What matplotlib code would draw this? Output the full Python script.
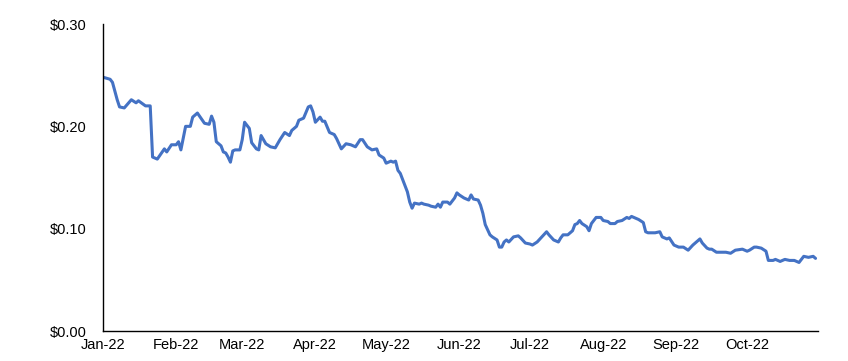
import pandas as pd
import matplotlib
matplotlib.use("Agg")
import matplotlib.pyplot as plt
import matplotlib.dates as mdates
from matplotlib.ticker import FuncFormatter

# price, roughly every other day (2022)
dates = [
    "2022-01-01", "2022-01-04", "2022-01-05", "2022-01-07", "2022-01-08", "2022-01-10",
    "2022-01-13", "2022-01-15", "2022-01-16", "2022-01-19", "2022-01-21", "2022-01-22",
    "2022-01-24", "2022-01-27", "2022-01-28", "2022-01-30", "2022-02-01", "2022-02-02",
    "2022-02-03", "2022-02-05", "2022-02-07", "2022-02-08", "2022-02-10", "2022-02-13",
    "2022-02-15", "2022-02-16", "2022-02-17", "2022-02-18", "2022-02-20", "2022-02-21",
    "2022-02-22", "2022-02-23", "2022-02-24", "2022-02-25", "2022-02-26", "2022-02-28",
    "2022-03-01", "2022-03-02", "2022-03-04", "2022-03-05", "2022-03-07", "2022-03-08",
    "2022-03-09", "2022-03-11", "2022-03-13", "2022-03-15", "2022-03-17", "2022-03-19",
    "2022-03-21", "2022-03-22", "2022-03-24", "2022-03-25", "2022-03-27", "2022-03-29",
    "2022-03-30", "2022-03-31", "2022-04-01", "2022-04-03", "2022-04-04", "2022-04-05",
    "2022-04-07", "2022-04-09", "2022-04-10", "2022-04-12", "2022-04-14", "2022-04-16",
    "2022-04-18", "2022-04-20", "2022-04-21", "2022-04-23", "2022-04-25", "2022-04-27",
    "2022-04-28", "2022-04-30", "2022-05-01", "2022-05-03", "2022-05-04", "2022-05-05",
    "2022-05-06", "2022-05-07", "2022-05-08", "2022-05-10", "2022-05-11", "2022-05-12",
    "2022-05-13", "2022-05-15", "2022-05-16", "2022-05-17", "2022-05-19", "2022-05-20",
    "2022-05-22", "2022-05-23", "2022-05-24", "2022-05-25", "2022-05-27", "2022-05-28",
    "2022-05-30", "2022-05-31", "2022-06-01", "2022-06-03", "2022-06-05", "2022-06-06",
    "2022-06-07", "2022-06-09", "2022-06-10", "2022-06-11", "2022-06-12", "2022-06-14",
    "2022-06-15", "2022-06-17", "2022-06-18", "2022-06-19", "2022-06-20", "2022-06-21",
    "2022-06-22", "2022-06-24", "2022-06-26", "2022-06-27", "2022-06-29", "2022-07-01",
    "2022-07-02", "2022-07-04", "2022-07-06", "2022-07-08", "2022-07-09", "2022-07-11",
    "2022-07-13", "2022-07-14", "2022-07-15", "2022-07-17", "2022-07-19", "2022-07-20",
    "2022-07-21", "2022-07-22", "2022-07-23", "2022-07-25", "2022-07-26", "2022-07-27",
    "2022-07-29", "2022-07-31", "2022-08-01", "2022-08-03", "2022-08-04", "2022-08-06",
    "2022-08-07", "2022-08-09", "2022-08-11", "2022-08-12", "2022-08-13", "2022-08-14",
    "2022-08-16", "2022-08-18", "2022-08-19", "2022-08-20", "2022-08-23", "2022-08-25",
    "2022-08-26", "2022-08-28", "2022-08-29", "2022-08-31", "2022-09-02", "2022-09-04",
    "2022-09-06", "2022-09-08", "2022-09-10", "2022-09-11", "2022-09-12", "2022-09-14",
    "2022-09-15", "2022-09-16", "2022-09-18", "2022-09-20", "2022-09-22", "2022-09-24",
    "2022-09-26", "2022-09-29", "2022-10-01", "2022-10-02", "2022-10-04", "2022-10-05",
    "2022-10-07", "2022-10-09", "2022-10-10", "2022-10-12", "2022-10-13", "2022-10-15",
    "2022-10-17", "2022-10-19", "2022-10-21", "2022-10-23", "2022-10-25", "2022-10-27",
    "2022-10-29", "2022-10-30",
]

price = [
    0.248, 0.246, 0.243, 0.226, 0.219, 0.218,
    0.226, 0.223, 0.225, 0.220, 0.220, 0.170,
    0.168, 0.178, 0.175, 0.182, 0.182, 0.185,
    0.177, 0.200, 0.200, 0.209, 0.213, 0.203,
    0.202, 0.210, 0.204, 0.185, 0.181, 0.175,
    0.174, 0.170, 0.165, 0.176, 0.177, 0.177,
    0.187, 0.204, 0.198, 0.184, 0.178, 0.177,
    0.191, 0.183, 0.180, 0.179, 0.187, 0.194,
    0.191, 0.196, 0.200, 0.206, 0.208, 0.219,
    0.220, 0.214, 0.204, 0.209, 0.205, 0.205,
    0.194, 0.192, 0.188, 0.178, 0.183, 0.182,
    0.180, 0.187, 0.187, 0.180, 0.177, 0.178,
    0.172, 0.169, 0.164, 0.166, 0.165, 0.166,
    0.157, 0.154, 0.148, 0.136, 0.126, 0.120,
    0.125, 0.124, 0.125, 0.124, 0.123, 0.122,
    0.121, 0.124, 0.121, 0.126, 0.126, 0.124,
    0.130, 0.135, 0.133, 0.130, 0.128, 0.133,
    0.129, 0.128, 0.123, 0.115, 0.104, 0.094,
    0.092, 0.089, 0.082, 0.082, 0.087, 0.089,
    0.087, 0.092, 0.093, 0.091, 0.086, 0.085,
    0.084, 0.087, 0.092, 0.097, 0.094, 0.089,
    0.087, 0.091, 0.094, 0.094, 0.098, 0.104,
    0.105, 0.108, 0.105, 0.102, 0.098, 0.105,
    0.111, 0.111, 0.108, 0.107, 0.105, 0.105,
    0.107, 0.108, 0.111, 0.110, 0.112, 0.111,
    0.109, 0.106, 0.097, 0.096, 0.096, 0.097,
    0.092, 0.090, 0.091, 0.084, 0.082, 0.082,
    0.079, 0.084, 0.088, 0.090, 0.086, 0.081,
    0.080, 0.080, 0.077, 0.077, 0.077, 0.076,
    0.079, 0.080, 0.078, 0.079, 0.082, 0.082,
    0.081, 0.078, 0.069, 0.069, 0.070, 0.068,
    0.070, 0.069, 0.069, 0.067, 0.073, 0.072,
    0.073, 0.071,
]

y_ticks = [0.0, 0.1, 0.2, 0.3]

df = pd.DataFrame({"date": pd.to_datetime(dates), "price": price})

plt.rcParams["font.family"] = ["Liberation Sans", "DejaVu Sans"]

fig = plt.figure(figsize=(8.48, 3.61), dpi=100)
ax = fig.add_axes([0.1215, 0.083, 0.843, 0.8505])

ax.plot(df["date"], df["price"], color="#4472C4", linewidth=2.2,
        solid_joinstyle="round", solid_capstyle="round")

ax.set_xlim(pd.Timestamp("2022-01-01"), pd.Timestamp("2022-10-31"))
ax.set_ylim(0, 0.30)
ax.set_yticks(y_ticks)
ax.yaxis.set_major_formatter(FuncFormatter(lambda v, p: "${:.2f}".format(v)))
ax.xaxis.set_major_locator(mdates.MonthLocator())
ax.xaxis.set_major_formatter(mdates.DateFormatter("%b-%y"))

ax.tick_params(axis="both", length=0, labelsize=10.5, colors="black")
ax.tick_params(axis="y", pad=12)
ax.tick_params(axis="x", pad=5)

for side in ["top", "right"]:
    ax.spines[side].set_visible(False)
for side in ["left", "bottom"]:
    ax.spines[side].set_color("black")
    ax.spines[side].set_linewidth(1.0)

fig.savefig("out.png", dpi=100)
